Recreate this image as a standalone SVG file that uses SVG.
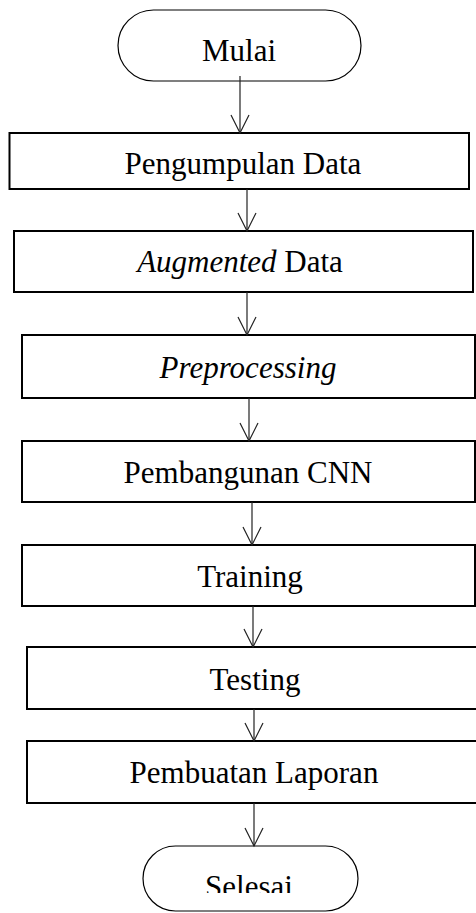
<svg xmlns="http://www.w3.org/2000/svg" width="476" height="913" viewBox="0 0 476 913">
<style>
.term{fill:#fff;stroke:#000;stroke-width:1.2}
.box{fill:#fff;stroke:#000;stroke-width:2}
.lbl{font-family:"Liberation Serif","Times New Roman",serif;font-size:31px;fill:#000;text-anchor:middle}
.it{font-style:italic}
.conn line{stroke:#222;stroke-width:1.2;marker-end:url(#arr)}
</style>
<defs>
<marker id="arr" markerUnits="userSpaceOnUse" markerWidth="20" markerHeight="20" refX="0" refY="0" orient="auto" overflow="visible">
<path d="M-18,-9 L0,0 L-18,9" fill="none" stroke="#222" stroke-width="1.2"/>
</marker>
<clipPath id="selclip"><rect x="140" y="840" width="230" height="53"/></clipPath>
</defs>
<rect width="476" height="913" fill="#fff"/>
<g id="mulai"><rect class="term" x="118" y="10" width="243" height="71" rx="35.5"/><text class="lbl" x="239" y="61">Mulai</text></g>
<g id="pengumpulan"><rect class="box" x="9.5" y="133" width="459.5" height="56"/><text class="lbl" x="243" y="174">Pengumpulan Data</text></g>
<g id="augmented"><rect class="box" x="14" y="231" width="459" height="61"/><text class="lbl" x="240" y="272"><tspan class="it">Augmented</tspan> Data</text></g>
<g id="preprocessing"><rect class="box" x="22" y="335" width="453" height="63"/><text class="lbl it" x="248" y="378">Preprocessing</text></g>
<g id="pembangunan"><rect class="box" x="22" y="441" width="453" height="61"/><text class="lbl" x="248" y="483">Pembangunan CNN</text></g>
<g id="training"><rect class="box" x="22" y="545" width="453" height="61"/><text class="lbl" x="250" y="587">Training</text></g>
<g id="testing"><rect class="box" x="27" y="647" width="460" height="62"/><text class="lbl" x="255" y="690">Testing</text></g>
<g id="laporan"><rect class="box" x="27" y="741" width="460" height="62"/><text class="lbl" x="254" y="783">Pembuatan Laporan</text></g>
<g id="selesai"><rect class="term" x="143" y="846" width="215" height="65" rx="32.5"/><text class="lbl" x="249" y="897" clip-path="url(#selclip)">Selesai</text></g>
<g id="connectors" class="conn">
<line x1="240" y1="76" x2="240" y2="133"/>
<line x1="247" y1="189" x2="247" y2="231"/>
<line x1="247" y1="292" x2="247" y2="335"/>
<line x1="249" y1="398" x2="249" y2="441"/>
<line x1="252" y1="502" x2="252" y2="545"/>
<line x1="253" y1="606" x2="253" y2="647"/>
<line x1="254" y1="709" x2="254" y2="741"/>
<line x1="254" y1="803" x2="254" y2="846"/>
</g>
</svg>
